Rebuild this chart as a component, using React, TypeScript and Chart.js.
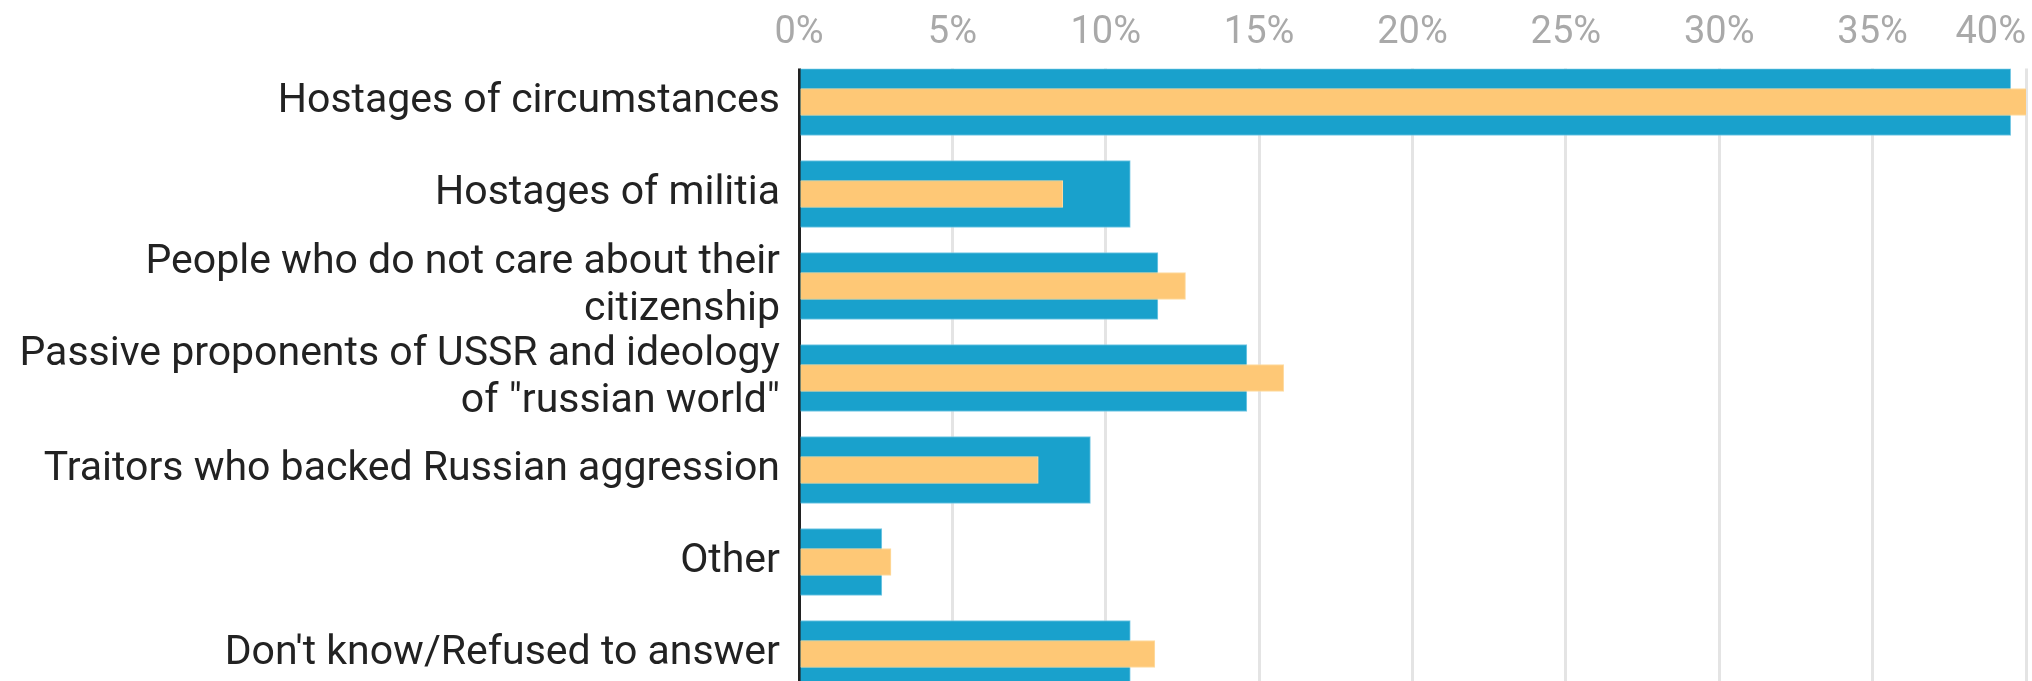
import React, { useEffect, useRef } from "react";
import { Chart, registerables } from "chart.js";

Chart.register(...registerables);

const CATEGORIES: (string | string[])[] = [
  "Hostages of circumstances",
  "Hostages of militia",
  ["People who do not care about their", "citizenship"],
  ["Passive proponents of USSR and ideology", 'of "russian world"'],
  "Traitors who backed Russian aggression",
  "Other",
  "Don't know/Refused to answer",
];

const SERIES_A_NAME = "Series A";
const SERIES_A = [39.5, 10.8, 11.7, 14.6, 9.5, 2.7, 10.8];

const SERIES_B_NAME = "Series B";
const SERIES_B = [40.1, 8.6, 12.6, 15.8, 7.8, 3.0, 11.6];

const X_TICKS = [0, 5, 10, 15, 20, 25, 30, 35, 40];
const X_TICK_LABELS = ["0%", "5%", "10%", "15%", "20%", "25%", "30%", "35%", "40%"];

const FONT_FAMILY = "Roboto, 'Noto Sans', sans-serif";
const OUTER_BAR = 67;
const INNER_BAR = 27;

const clipTopPlugin = {
  id: "clipTop",
  beforeDraw(chart: any) {
    const ys = chart.scales.y;
    const top = ys.getPixelForValue(0) - OUTER_BAR / 2;
    const ctx = chart.ctx;
    ctx.save();
    ctx.beginPath();
    ctx.rect(0, top, chart.width, chart.height - top);
    ctx.clip();
  },
  afterDraw(chart: any) {
    chart.ctx.restore();
  },
};

const topTicksPlugin = {
  id: "topTicks",
  afterDraw(chart: any) {
    const xs = chart.scales.x;
    const ctx = chart.ctx;
    ctx.save();
    ctx.font = `38px ${FONT_FAMILY}`;
    ctx.fillStyle = "#a9a9a9";
    ctx.textBaseline = "middle";
    X_TICKS.forEach((v, i) => {
      const px = xs.getPixelForValue(v);
      ctx.textAlign = i === X_TICKS.length - 1 ? "right" : "center";
      ctx.fillText(X_TICK_LABELS[i], px, chart.chartArea.top - 23);
    });
    ctx.restore();
  },
};

export default function App() {
  const ref = useRef<HTMLCanvasElement | null>(null);

  useEffect(() => {
    document.body.style.margin = "0";
    if (!ref.current) return;
    const chart = new Chart(ref.current, {
      type: "bar",
      data: {
        labels: CATEGORIES,
        datasets: [
          {
            label: SERIES_A_NAME,
            data: SERIES_A,
            backgroundColor: "#19a1cc",
            borderColor: "#78c9e4",
            borderWidth: 1,
            barThickness: OUTER_BAR,
            grouped: false,
            order: 2,
          },
          {
            label: SERIES_B_NAME,
            data: SERIES_B,
            backgroundColor: "#fec876",
            borderColor: "#fedba2",
            borderWidth: 1,
            barThickness: INNER_BAR,
            grouped: false,
            order: 1,
          },
        ],
      },
      options: {
        indexAxis: "y",
        responsive: false,
        animation: false,
        devicePixelRatio: 1,
        layout: { padding: { top: 56, right: 6, left: 0, bottom: 0 } },
        plugins: {
          legend: { display: false },
          tooltip: { enabled: false },
        },
        scales: {
          x: {
            position: "top",
            min: 0,
            max: 40,
            ticks: { display: false, stepSize: 5 },
            grid: { color: "#e4e4e4", lineWidth: 3, drawTicks: false },
            border: { display: false },
            afterFit(scale: any) {
              scale.paddingLeft = 0;
              scale.paddingRight = 0;
            },
          },
          y: {
            type: "category",
            offset: true,
            grid: { display: false, drawTicks: false },
            border: { display: true, color: "#222222", width: 3 },
            ticks: {
              color: "#222222",
              autoSkip: false,
              padding: 19,
              font: { family: FONT_FAMILY, size: 41, lineHeight: 1.15 },
            },
            afterFit(scale: any) {
              scale.width = 799;
              scale.paddingTop = 0;
              scale.paddingBottom = 0;
            },
          },
        },
      },
      plugins: [clipTopPlugin, topTicksPlugin],
    } as any);
    return () => chart.destroy();
  }, []);

  return (
    <div style={{ width: 2032, height: 681, overflow: "hidden", background: "#ffffff" }}>
      <canvas ref={ref} width={2032} height={700} style={{ display: "block", width: 2032, height: 700 }} />
    </div>
  );
}
